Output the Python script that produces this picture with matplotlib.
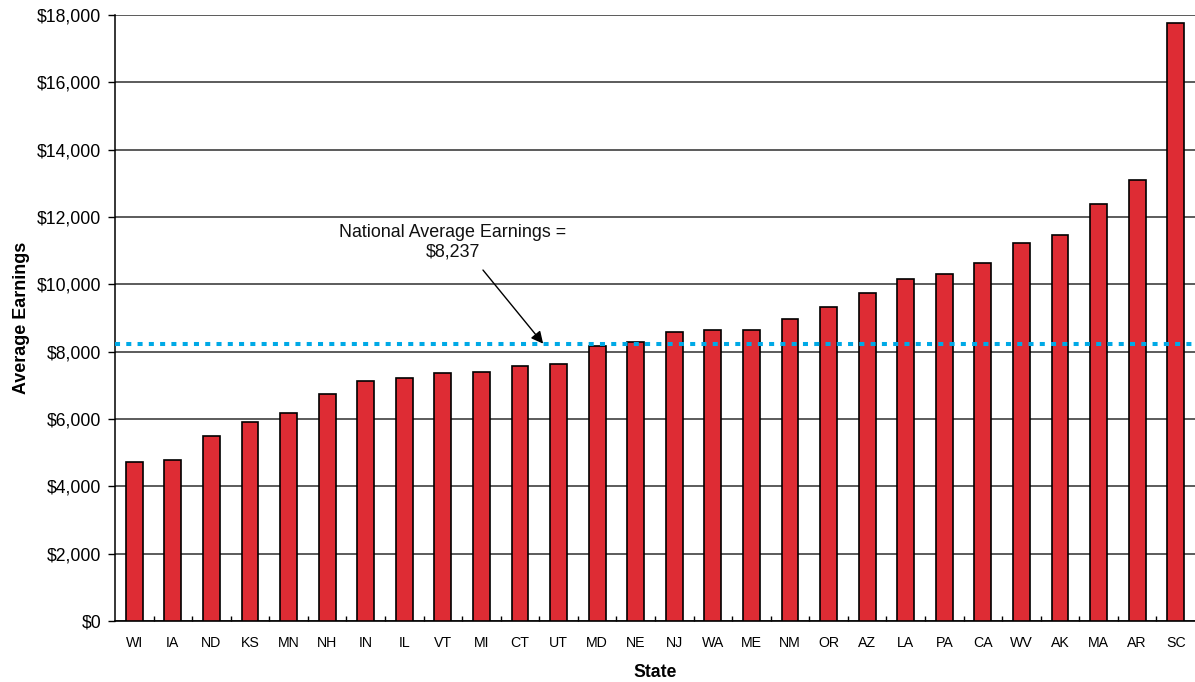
import matplotlib
matplotlib.use("Agg")
import matplotlib.pyplot as plt
import numpy as np

# Average earnings by state, sorted ascending
states = ["WI", "IA", "ND", "KS", "MN", "NH", "IN", "IL", "VT", "MI", "CT", "UT",
          "MD", "NE", "NJ", "WA", "ME", "NM", "OR", "AZ", "LA", "PA", "CA", "WV",
          "AK", "MA", "AR", "SC"]
earnings = [4720, 4775, 5490, 5920, 6168, 6733, 7137, 7227, 7366, 7386, 7574, 7633,
            8177, 8277, 8593, 8633, 8643, 8960, 9336, 9752, 10157, 10316, 10634, 11228,
            11465, 12386, 13099, 17772]
national_avg = 8237
y_ticks = list(range(0, 18001, 2000))
y_tick_labels = [f"${v:,}" for v in y_ticks]

plt.rcParams["font.family"] = ["Liberation Sans", "DejaVu Sans"]

fig = plt.figure(figsize=(11.95, 6.82), dpi=100)
ax = fig.add_axes([115 / 1195, 1 - 621 / 682, 1 - 115 / 1195, (621 - 15) / 682])

x = np.arange(len(states))
ax.bar(x, earnings, width=0.44, color="#DE2C34", edgecolor="black", linewidth=1.2, zorder=3)

# national average reference line
ax.axhline(national_avg, color="#00A9E6", linewidth=2.9, linestyle=(0, (1.25, 1.55)), zorder=4)

ax.text(8.26, 11240, "National Average Earnings =\n$8,237", ha="center", va="center",
        fontsize=12.9, multialignment="center", color="#111111", zorder=5)
ax.annotate("", xy=(10.6, national_avg), xytext=(9.04, 10425),
            arrowprops=dict(arrowstyle="-|>", color="black", lw=1.0,
                            mutation_scale=18, shrinkA=0, shrinkB=0), zorder=5)

ax.set_xlim(-0.5, len(states) - 0.5)
ax.set_ylim(0, 18000)
ax.set_yticks(y_ticks)
ax.set_yticklabels(y_tick_labels, fontsize=12.7)
ax.yaxis.grid(True, color="#2f2f2f", linewidth=1.1, zorder=0)
ax.set_axisbelow(True)

ax.set_xticks(x)
ax.set_xticklabels(states, fontsize=10.2)
ax.set_xticks(np.arange(len(states) - 1) + 0.5, minor=True)
ax.tick_params(axis="x", which="major", length=0, pad=11)
ax.tick_params(axis="x", which="minor", direction="in", length=3.6, width=1, color="black")
ax.tick_params(axis="y", direction="out", length=5, width=1, pad=5, color="black")

for side in ("top", "right"):
    ax.spines[side].set_visible(False)
ax.spines["left"].set_color("black")
ax.spines["left"].set_linewidth(1.1)
ax.spines["bottom"].set_color("black")
ax.spines["bottom"].set_linewidth(1.2)

ax.set_xlabel("State", fontsize=12.7, fontweight="bold", labelpad=10)
ax.set_ylabel("Average Earnings", fontsize=12.9, fontweight="bold", labelpad=5)

fig.savefig("out.png", dpi=100)
